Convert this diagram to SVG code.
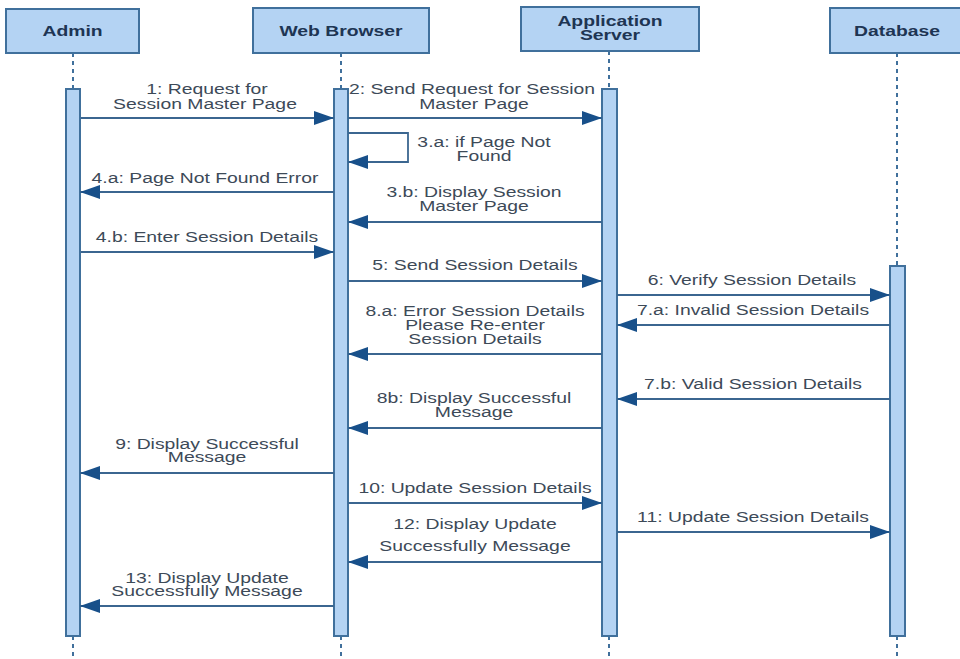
<svg xmlns="http://www.w3.org/2000/svg" width="960" height="659" viewBox="0 0 960 659">
<defs>
<style>
.box{fill:#b4d3f3;stroke:#40709c;stroke-width:2}
.bar{fill:#b4d3f3;stroke:#40709c;stroke-width:2}
.life{stroke:#40709c;stroke-width:2;stroke-dasharray:4 4;fill:none}
.msg{stroke:#3b6690;stroke-width:1.8;fill:none;marker-end:url(#ah)}
.hd{font-family:"Liberation Sans",Arial,sans-serif;font-weight:bold;font-size:15px;fill:#1e3553;text-anchor:middle}
.lb{font-family:"Liberation Sans",Arial,sans-serif;font-size:15px;fill:#3d4a58;text-anchor:middle}
</style>
<marker id="ah" viewBox="0 0 20 14" refX="20" refY="7" markerWidth="20" markerHeight="14" markerUnits="userSpaceOnUse" orient="auto">
<path d="M0,0 L20,7 L0,14 z" fill="#18508a"/>
</marker>
</defs>
<rect width="960" height="659" fill="#ffffff"/>

<g id="admin">
<rect class="box" x="6" y="9" width="133" height="44"/>
<text class="hd" transform="matrix(1.29 0 0 1 72.5 36)">Admin</text>
<line class="life" x1="73" y1="53" x2="73" y2="89"/>
<line class="life" x1="73" y1="636" x2="73" y2="659"/>
<rect class="bar" x="66" y="89" width="14" height="547"/>
</g>

<g id="webbrowser">
<rect class="box" x="253" y="8" width="176" height="45"/>
<text class="hd" transform="matrix(1.29 0 0 1 341 36)">Web Browser</text>
<line class="life" x1="341" y1="53" x2="341" y2="89"/>
<line class="life" x1="341" y1="636" x2="341" y2="659"/>
<rect class="bar" x="334" y="89" width="14" height="547"/>
</g>

<g id="appserver">
<rect class="box" x="521" y="7" width="178" height="44"/>
<text class="hd" transform="matrix(1.29 0 0 1 610 26)">Application</text>
<text class="hd" transform="matrix(1.29 0 0 1 610 40)">Server</text>
<line class="life" x1="609" y1="51" x2="609" y2="89"/>
<line class="life" x1="609" y1="636" x2="609" y2="659"/>
<rect class="bar" x="602" y="89" width="15" height="547"/>
</g>

<g id="database">
<rect class="box" x="830" y="8" width="134" height="45"/>
<text class="hd" transform="matrix(1.29 0 0 1 897 36)">Database</text>
<line class="life" x1="897" y1="53" x2="897" y2="266"/>
<line class="life" x1="897" y1="636" x2="897" y2="659"/>
<rect class="bar" x="890" y="266" width="15" height="370"/>
</g>

<g id="connectors">
<line class="msg" x1="81" y1="118" x2="334" y2="118"/>
<line class="msg" x1="348" y1="118" x2="602" y2="118"/>
<polyline class="msg" points="348,133 408,133 408,162 348,162"/>
<line class="msg" x1="334" y1="192" x2="80" y2="192"/>
<line class="msg" x1="602" y1="222" x2="348" y2="222"/>
<line class="msg" x1="81" y1="252" x2="334" y2="252"/>
<line class="msg" x1="348" y1="281" x2="602" y2="281"/>
<line class="msg" x1="617" y1="295" x2="890" y2="295"/>
<line class="msg" x1="890" y1="325" x2="617" y2="325"/>
<line class="msg" x1="602" y1="354" x2="348" y2="354"/>
<line class="msg" x1="890" y1="399" x2="617" y2="399"/>
<line class="msg" x1="602" y1="428" x2="348" y2="428"/>
<line class="msg" x1="334" y1="473" x2="80" y2="473"/>
<line class="msg" x1="348" y1="503" x2="602" y2="503"/>
<line class="msg" x1="617" y1="532" x2="890" y2="532"/>
<line class="msg" x1="602" y1="562" x2="348" y2="562"/>
<line class="msg" x1="334" y1="606" x2="80" y2="606"/>
</g>

<g id="labels">
<text class="lb" transform="matrix(1.29 0 0 1 207 94)">1: Request for</text>
<text class="lb" transform="matrix(1.29 0 0 1 205 109)">Session Master Page</text>
<text class="lb" transform="matrix(1.29 0 0 1 472 94)">2: Send Request for Session</text>
<text class="lb" transform="matrix(1.29 0 0 1 474 109)">Master Page</text>
<text class="lb" transform="matrix(1.29 0 0 1 484 147)">3.a: if Page Not</text>
<text class="lb" transform="matrix(1.29 0 0 1 484 161)">Found</text>
<text class="lb" transform="matrix(1.29 0 0 1 205 183)">4.a: Page Not Found Error</text>
<text class="lb" transform="matrix(1.29 0 0 1 474 197)">3.b: Display Session</text>
<text class="lb" transform="matrix(1.29 0 0 1 474 211)">Master Page</text>
<text class="lb" transform="matrix(1.29 0 0 1 207 242)">4.b: Enter Session Details</text>
<text class="lb" transform="matrix(1.29 0 0 1 475 270)">5: Send Session Details</text>
<text class="lb" transform="matrix(1.29 0 0 1 752 285)">6: Verify Session Details</text>
<text class="lb" transform="matrix(1.29 0 0 1 753 315)">7.a: Invalid Session Details</text>
<text class="lb" transform="matrix(1.29 0 0 1 475 316)">8.a: Error Session Details</text>
<text class="lb" transform="matrix(1.29 0 0 1 475 330)">Please Re-enter</text>
<text class="lb" transform="matrix(1.29 0 0 1 475 344)">Session Details</text>
<text class="lb" transform="matrix(1.29 0 0 1 753 389)">7.b: Valid Session Details</text>
<text class="lb" transform="matrix(1.29 0 0 1 474 403)">8b: Display Successful</text>
<text class="lb" transform="matrix(1.29 0 0 1 474 417)">Message</text>
<text class="lb" transform="matrix(1.29 0 0 1 207 449)">9: Display Successful</text>
<text class="lb" transform="matrix(1.29 0 0 1 207 462)">Message</text>
<text class="lb" transform="matrix(1.29 0 0 1 475 493)">10: Update Session Details</text>
<text class="lb" transform="matrix(1.29 0 0 1 753 522)">11: Update Session Details</text>
<text class="lb" transform="matrix(1.29 0 0 1 475 529)">12: Display Update</text>
<text class="lb" transform="matrix(1.29 0 0 1 475 551)">Successfully Message</text>
<text class="lb" transform="matrix(1.29 0 0 1 207 583)">13: Display Update</text>
<text class="lb" transform="matrix(1.29 0 0 1 207 596)">Successfully Message</text>
</g>
</svg>
